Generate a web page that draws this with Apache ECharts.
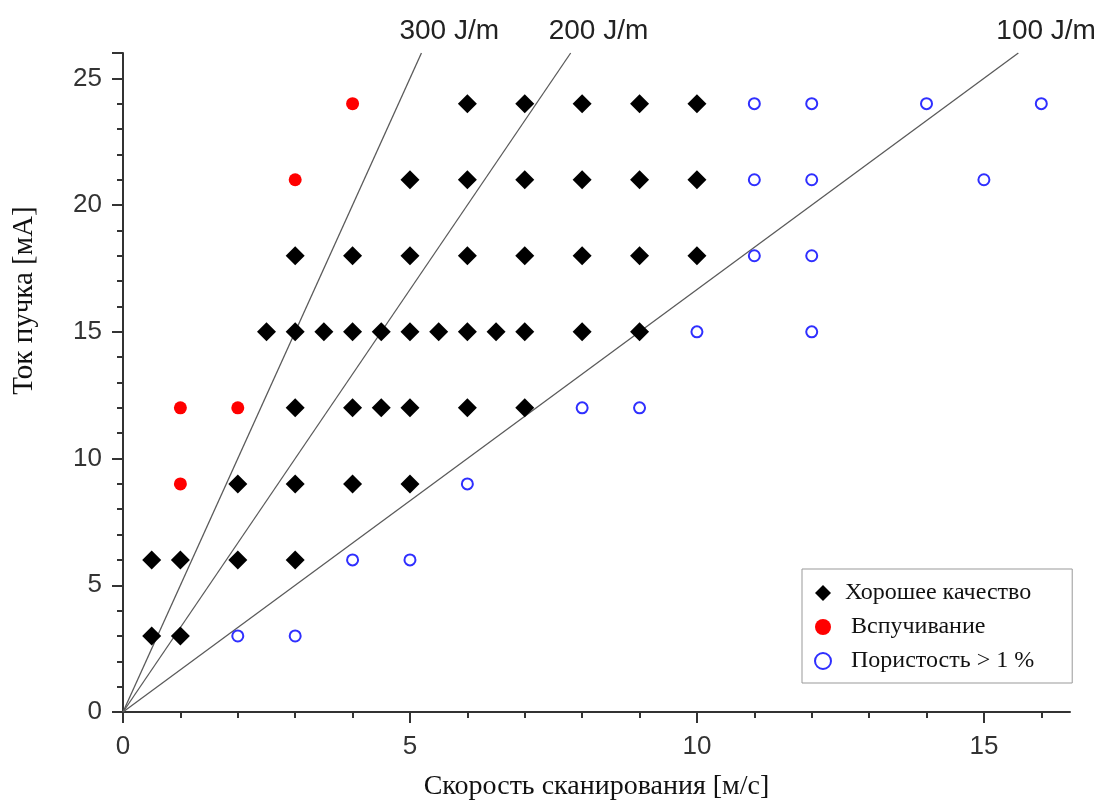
<!DOCTYPE html>
<html>
<head>
<meta charset="utf-8">
<script src="https://cdn.jsdelivr.net/npm/echarts@6/dist/echarts.min.js"></script>
<style>
  html, body { margin: 0; padding: 0; background: #fff; }
  #chart { width: 1105px; height: 800px; }
</style>
</head>
<body>
<div id="chart"></div>
<script>
// скорость [м/с], ток [мА]
const goodPoints = [
  [0.5, 3], [1, 3],
  [0.5, 6], [1, 6], [2, 6], [3, 6],
  [2, 9], [3, 9], [4, 9], [5, 9],
  [3, 12], [4, 12], [4.5, 12], [5, 12], [6, 12], [7, 12],
  [2.5, 15], [3, 15], [3.5, 15], [4, 15], [4.5, 15], [5, 15], [5.5, 15], [6, 15], [6.5, 15], [7, 15], [8, 15], [9, 15],
  [3, 18], [4, 18], [5, 18], [6, 18], [7, 18], [8, 18], [9, 18], [10, 18],
  [5, 21], [6, 21], [7, 21], [8, 21], [9, 21], [10, 21],
  [6, 24], [7, 24], [8, 24], [9, 24], [10, 24]
];
const swellPoints = [[1, 9], [1, 12], [2, 12], [3, 21], [4, 24]];
const porousPoints = [
  [2, 3], [3, 3], [4, 6], [5, 6], [6, 9], [8, 12], [9, 12],
  [10, 15], [12, 15], [11, 18], [12, 18], [11, 21], [12, 21], [15, 21],
  [11, 24], [12, 24], [14, 24], [16, 24]
];
// линии равной погонной энергии: I = k * v
const energyLabels = ['300 J/m', '200 J/m', '100 J/m'];
const energySlopes = [5, 10 / 3, 5 / 3];
const xTicks = [0, 5, 10, 15];
const yTop = 26;

const chart = echarts.init(document.getElementById('chart'));

const lineSeries = energyLabels.map(function (name, i) {
  return {
    name: name,
    type: 'line',
    data: [[0, 0], [yTop / energySlopes[i], yTop]],
    symbol: 'none',
    silent: true,
    lineStyle: { color: '#5a5a5a', width: 1.3 },
    endLabel: {
      show: true,
      formatter: name,
      color: '#222',
      fontFamily: 'Liberation Sans',
      fontSize: 28,
      offset: [-30, -22]
    },
    z: 1
  };
});

const axisColor = '#333';

chart.setOption({
  animation: false,
  backgroundColor: '#fff',
  grid: { left: 123, right: 35, top: 53, bottom: 88, outerBoundsMode: 'none', containLabel: false },
  legend: {
    orient: 'vertical',
    left: 802,
    top: 569,
    padding: [12, 38, 10, 12],
    itemGap: 10,
    itemWidth: 16,
    itemHeight: 16,
    borderColor: '#999',
    borderWidth: 1,
    data: [
      { name: 'Хорошее качество', icon: 'diamond' },
      { name: ' Вспучивание', icon: 'circle' },
      { name: ' Пористость > 1 %', icon: 'emptyCircle', itemStyle: { borderWidth: 2.5 } }
    ],
    textStyle: { fontFamily: 'Liberation Serif', fontSize: 24, color: '#111', padding: [0, 0, 0, 9] }
  },
  xAxis: {
    type: 'value',
    min: 0,
    max: 16.5,
    interval: 5,
    name: 'Скорость сканирования [м/с]',
    nameLocation: 'middle',
    nameGap: 61,
    nameTextStyle: { fontFamily: 'Liberation Serif', fontSize: 28, color: '#111' },
    axisLine: { show: true, lineStyle: { color: axisColor, width: 2 } },
    axisTick: { show: true, length: 11, customValues: xTicks, lineStyle: { color: axisColor, width: 2 } },
    minorTick: { show: true, splitNumber: 5, length: 6, lineStyle: { color: axisColor, width: 2 } },
    axisLabel: {
      margin: 22, fontFamily: 'Liberation Sans', fontSize: 26, color: '#333',
      customValues: xTicks
    },
    splitLine: { show: false }
  },
  yAxis: {
    type: 'value',
    min: 0,
    max: yTop,
    interval: 5,
    name: 'Ток пучка [мА]',
    nameLocation: 'middle',
    nameRotate: 90,
    nameGap: 84,
    nameTextStyle: {
      fontFamily: 'Liberation Serif', fontSize: 29, color: '#111',
      padding: [0, 0, 0, 164]
    },
    axisLine: { show: true, lineStyle: { color: axisColor, width: 2 } },
    axisTick: { show: true, length: 11, lineStyle: { color: axisColor, width: 2 } },
    minorTick: { show: true, splitNumber: 5, length: 6, lineStyle: { color: axisColor, width: 2 } },
    axisLabel: {
      margin: 21, fontFamily: 'Liberation Sans', fontSize: 26, color: '#333',
      showMaxLabel: false
    },
    splitLine: { show: false }
  },
  series: lineSeries.concat([
    {
      name: 'Хорошее качество',
      type: 'scatter',
      symbol: 'diamond',
      symbolSize: 19,
      itemStyle: { color: '#000', opacity: 1 },
      data: goodPoints,
      z: 3
    },
    {
      name: ' Вспучивание',
      type: 'scatter',
      symbol: 'circle',
      symbolSize: 13,
      itemStyle: { color: '#ff0000', opacity: 1 },
      data: swellPoints,
      z: 3
    },
    {
      name: ' Пористость > 1 %',
      type: 'scatter',
      symbol: 'emptyCircle',
      symbolSize: 11,
      itemStyle: { color: '#2f2fff', borderColor: '#2f2fff', borderWidth: 2.8, opacity: 1 },
      data: porousPoints,
      z: 3
    }
  ])
});
</script>
</body>
</html>
